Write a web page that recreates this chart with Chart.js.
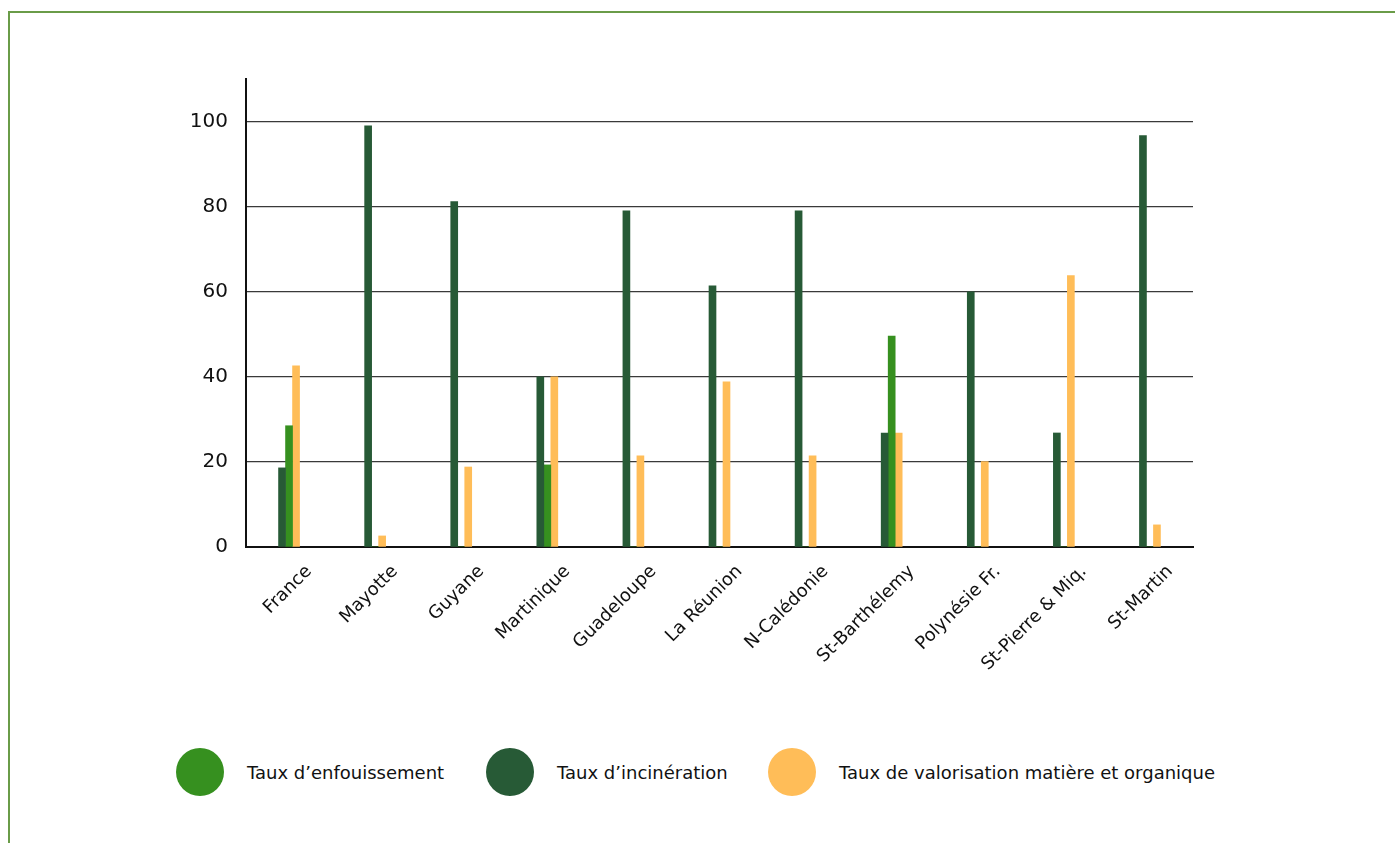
<!DOCTYPE html>
<html lang="fr">
<head>
<meta charset="utf-8">
<script src="https://cdn.jsdelivr.net/npm/chart.js@4"></script>
<style>
  html, body { margin: 0; padding: 0; background: #fff; }
  body { width: 1395px; height: 843px; position: relative; overflow: hidden; font-family: "DejaVu Sans", sans-serif; }
  .frame { position: absolute; left: 8px; top: 11px; right: -4px; bottom: -4px; border-top: 2px solid #6a9c48; border-left: 2px solid #6a9c48; }
  .chart-box { position: absolute; left: 0; top: 0; width: 1395px; height: 700px; }
  .legend { position: absolute; top: 748px; left: 0; width: 1395px; height: 48px; }
  .legend-item { position: absolute; top: 0; height: 48px; display: flex; align-items: center; }
  .legend-item .dot { width: 48px; height: 48px; border-radius: 50%; margin-right: 23px; }
  .legend-item span { font-size: 18px; color: #111; }
</style>
</head>
<body>
<div class="frame"></div>
<div class="chart-box"><canvas id="wasteChart"></canvas></div>
<div class="legend" id="legend"></div>

<script>
// territories on the x axis
const territories = [
  "France", "Mayotte", "Guyane", "Martinique", "Guadeloupe", "La Réunion",
  "N-Calédonie", "St-Barthélemy", "Polynésie Fr.", "St-Pierre & Miq.", "St-Martin",
];

// rates in %
const incineration = [18.6, 99, 81.2, 40, 79, 61.4, 79, 26.8, 60, 26.8, 96.7];
const enfouissement = [28.5, 0, 0, 19.3, 0, 0, 0, 49.6, 0, 0, 0];
const valorisation = [42.6, 2.6, 18.8, 40, 21.4, 38.8, 21.4, 26.8, 20.1, 63.8, 5.2];

const yTicks = [0, 20, 40, 60, 80, 100];

const colors = {
  enfouissement: "#36901f",
  incineration: "#275a36",
  valorisation: "#ffbd58",
};

// legend order differs from the bar order
const legendItems = [
  { label: "Taux d’enfouissement", color: colors.enfouissement, left: 176 },
  { label: "Taux d’incinération", color: colors.incineration, left: 486 },
  { label: "Taux de valorisation matière et organique", color: colors.valorisation, left: 768 },
];

const legendEl = document.getElementById("legend");
legendItems.forEach((item) => {
  const div = document.createElement("div");
  div.className = "legend-item";
  div.style.left = item.left + "px";
  div.innerHTML = `<div class="dot" style="background:${item.color}"></div><span>${item.label}</span>`;
  legendEl.appendChild(div);
});

const ctx = document.getElementById("wasteChart");

new Chart(ctx, {
  type: "bar",
  data: {
    labels: territories,
    datasets: [
      { label: "Taux d’incinération", data: incineration, backgroundColor: colors.incineration },
      { label: "Taux d’enfouissement", data: enfouissement, backgroundColor: colors.enfouissement },
      { label: "Taux de valorisation matière et organique", data: valorisation, backgroundColor: colors.valorisation },
    ],
  },
  options: {
    responsive: true,
    maintainAspectRatio: false,
    animation: false,
    datasets: {
      bar: { barThickness: 7 },
    },
    layout: {
      padding: { top: 79, right: 202, left: 0, bottom: 0 },
    },
    plugins: {
      legend: { display: false },
      tooltip: { enabled: false },
    },
    scales: {
      x: {
        grid: { display: false, drawTicks: false },
        border: { color: "#111", width: 2 },
        ticks: {
          color: "#111",
          font: { family: "DejaVu Sans", size: 18 },
          maxRotation: 45,
          minRotation: 45,
          labelOffset: 20,
          padding: 14,
          autoSkip: false,
        },
        afterFit: (scale) => { scale.height = 153; },
      },
      y: {
        min: 0,
        max: 110,
        afterBuildTicks: (scale) => {
          scale.ticks = yTicks.map((v) => ({ value: v }));
        },
        grid: { color: "#3a3a3a", lineWidth: 1.2, drawTicks: false },
        border: { color: "#111", width: 2 },
        ticks: {
          color: "#111",
          font: { family: "DejaVu Sans", size: 20 },
          padding: 18,
        },
        afterFit: (scale) => { scale.width = 246; },
      },
    },
  },
});
</script>
</body>
</html>
